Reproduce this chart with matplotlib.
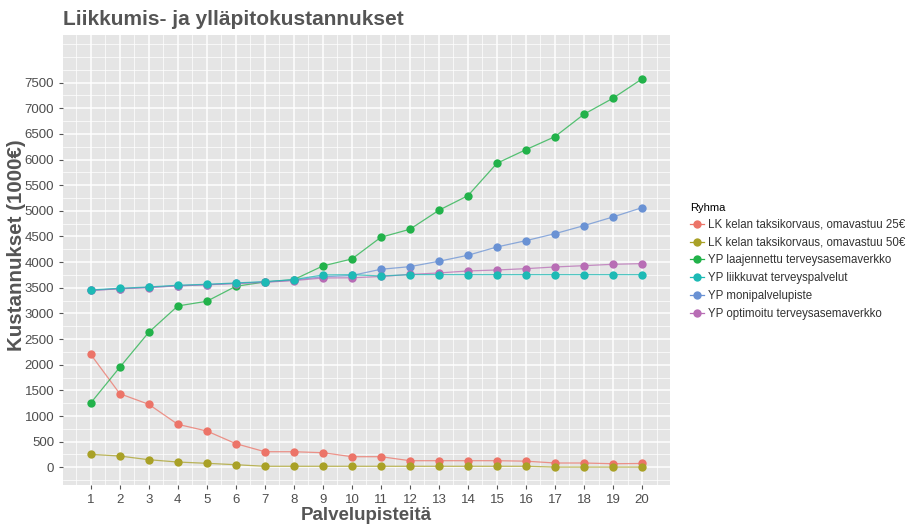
import numpy as np
import matplotlib
matplotlib.use("Agg")
import matplotlib.pyplot as plt
from matplotlib.ticker import MultipleLocator

plt.rcParams['font.family'] = ['Liberation Sans', 'DejaVu Sans']

# data
palvelupisteet = list(range(1, 21))
lk_25 = [2200, 1435, 1228, 838, 708, 461, 304, 304, 285, 207,
         207, 129, 129, 129, 129, 120, 84, 84, 70, 75]
lk_50 = [253, 220, 148, 103, 78, 51, 20, 20, 20, 20,
         20, 20, 20, 20, 20, 20, 5, 5, 5, 5]
yp_laaj = [1254, 1950, 2633, 3146, 3237, 3529, 3613, 3659, 3926, 4062,
           4485, 4641, 5012, 5296, 5928, 6193, 6447, 6884, 7196, 7572]
yp_liik = [3458, 3490, 3516, 3549, 3568, 3594, 3620, 3659, 3750, 3756,
           3730, 3756, 3756, 3756, 3756, 3756, 3756, 3756, 3756, 3756]
yp_moni = [3450, 3482, 3508, 3540, 3560, 3586, 3612, 3650, 3715, 3740,
           3861, 3912, 4017, 4134, 4296, 4419, 4555, 4712, 4881, 5062]
yp_opt = [3448, 3480, 3505, 3538, 3558, 3583, 3608, 3640, 3691, 3695,
          3720, 3760, 3789, 3828, 3847, 3873, 3906, 3931, 3958, 3971]

ryhmat = ["LK kelan taksikorvaus, omavastuu 25€",
          "LK kelan taksikorvaus, omavastuu 50€",
          "YP laajennettu terveysasemaverkko",
          "YP liikkuvat terveyspalvelut",
          "YP monipalvelupiste",
          "YP optimoitu terveysasemaverkko"]
sarjat = [lk_25, lk_50, yp_laaj, yp_liik, yp_moni, yp_opt]
varit = ["#EC7468", "#A9A127", "#22B24A", "#1DBAB5", "#6A92D4", "#B86DB5"]
# cyan drawn on top like in the original
jarjestys = [0, 1, 2, 4, 5, 3]

fig = plt.figure(figsize=(9.16, 5.24), dpi=100)
ax = fig.add_axes([0.069, 0.0744, 0.662, 0.859])
ax.set_facecolor("#E5E5E5")

handles = [None] * 6
for k, i in enumerate(jarjestys):
    ax.plot(palvelupisteet, sarjat[i], color=varit[i], lw=0.9, alpha=0.75, zorder=2 + k * 0.1)
    ax.plot(palvelupisteet, sarjat[i], color=varit[i], marker="o", ms=6,
            markeredgewidth=0, linestyle="none", zorder=3 + k * 0.1)
    handles[i] = ax.plot([], [], color=varit[i], lw=0.9, marker="o", ms=6,
                         markeredgewidth=0)[0]

ax.set_xlim(0.05, 20.95)
ax.set_ylim(-345, 8430)
ax.set_xticks(palvelupisteet)
ax.set_yticks(np.arange(0, 7501, 500))
ax.xaxis.set_minor_locator(MultipleLocator(0.5))
ax.yaxis.set_minor_locator(MultipleLocator(250))
ax.grid(which="major", color="white", lw=1.1)
ax.grid(which="minor", color="white", lw=0.5)
ax.set_axisbelow(True)
for s in ax.spines.values():
    s.set_visible(False)
ax.tick_params(which="major", length=3, color="#555555", labelcolor="#4D4D4D", labelsize=9.5)
ax.tick_params(which="minor", length=0)

ax.set_xlabel("Palvelupisteitä", fontsize=13.5, fontweight="bold", color="#555555", labelpad=1)
ax.set_ylabel("Kustannukset (1000€)", fontsize=14.8, fontweight="bold", color="#555555")
ax.yaxis.set_label_coords(-0.062, 0.532)
fig.text(0.069, 0.962, "Liikkumis- ja ylläpitokustannukset", fontsize=15, fontweight="bold",
         color="#555555", va="center", ha="left")

leg = fig.legend(handles, ryhmat, loc="upper left", bbox_to_anchor=(0.742, 0.632),
                 frameon=False, title="Ryhma", fontsize=8.3, title_fontsize=8,
                 handlelength=1.2, handletextpad=0.4, labelspacing=0.5)
leg._legend_box.align = "left"
for t in leg.get_texts():
    t.set_color("#333333")

fig.savefig("out.png", dpi=100)
